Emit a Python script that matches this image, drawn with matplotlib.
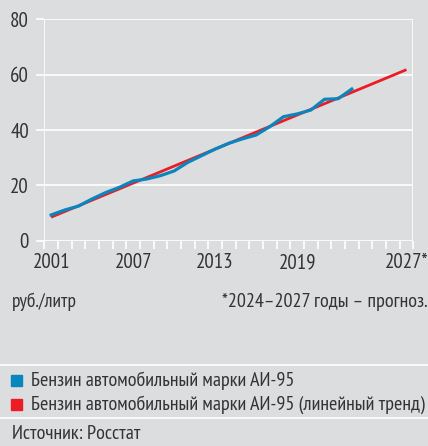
import numpy as np
import matplotlib.pyplot as plt
from matplotlib import font_manager
from matplotlib.patches import Rectangle

years = list(range(2001, 2024))
price = [9.3, 11.1, 12.5, 15.1, 17.4, 19.3, 21.6, 22.3, 23.5, 25.2, 28.3, 30.7,
         33.1, 35.2, 36.8, 38.2, 41.2, 44.8, 45.8, 47.2, 51.1, 51.3, 54.8]
trend_years = [2001, 2027]
trend_vals = [8.5, 61.8]
label_years = [2001, 2007, 2013, 2019, 2027]
label_text = ["2001", "2007", "2013", "2019", "2027*"]
yticks = [0, 20, 40, 60, 80]

bg = "#dcdddf"
blue = "#0a86bf"
red = "#ec1c24"
txt = "#333333"


def has_cyr(path):
    try:
        cmap = font_manager.get_font(path).get_charmap()
        return all(ord(c) in cmap for c in "БжИ–")
    except Exception:
        return False


# look for a narrow font with cyrillic, fall back to plain DejaVu
cands = []
for f in font_manager.fontManager.ttflist:
    if f.style != "normal" or f.weight not in (400, "normal", "regular"):
        continue
    if "Narrow" in f.name or f.stretch == "condensed" or "Condensed" in f.fname:
        if has_cyr(f.fname):
            cands.append(f)
cands.sort(key=lambda f: ("Narrow" not in f.name, f.fname))
fname = cands[0].fname if cands else None


def fp(size):
    if fname:
        return font_manager.FontProperties(fname=fname, size=size)
    return font_manager.FontProperties(family="DejaVu Sans", stretch="condensed", size=size)


fig = plt.figure(figsize=(4.28, 4.46), dpi=100, facecolor=bg)
ax = fig.add_axes([44.3 / 428, 1 - 240.7 / 446, (413.3 - 44.3) / 428, (240.7 - 19.3) / 446])
ax.set_facecolor(bg)

ax.plot(trend_years, trend_vals, color=red, lw=2.0, solid_capstyle="butt", zorder=3)
ax.plot(years, price, color=blue, lw=2.3, zorder=4)

ax.set_xlim(2000.5, 2027.5)
ax.set_ylim(0, 80)
for s in ax.spines.values():
    s.set_visible(False)

ax.set_yticks(yticks)
ax.set_yticklabels([str(v) for v in yticks], fontproperties=fp(15))
ax.yaxis.grid(True, color="white", lw=1.2)
ax.axvline(2000.5, color="white", lw=1.2, zorder=1)
ax.axvline(2027.5, color="white", lw=1.2, zorder=1)
ax.tick_params(axis="y", length=6, color="white", width=1.2, pad=5, labelcolor=txt)

ax.set_xticks(np.arange(2000.5, 2028, 1.0))
ax.set_xticklabels([])
ax.set_xticks(label_years, minor=True)
ax.set_xticklabels(label_text, minor=True, fontproperties=fp(15))
ax.tick_params(axis="x", which="major", length=6, color="white", width=1.2)
ax.tick_params(axis="x", which="minor", length=0, pad=9, labelcolor=txt)
ax.set_axisbelow(True)

fig.text(12 / 428, 1 - 302 / 446, "руб./литр", fontproperties=fp(14), color=txt, va="center")
fig.text(428 / 428, 1 - 302 / 446, "*2024–2027 годы – прогноз.", fontproperties=fp(14.5),
         color=txt, va="center", ha="right")

for yy in [365, 418]:
    fig.add_artist(plt.Line2D([0, 1], [1 - yy / 446] * 2, color="white", lw=1.2))

legend_items = [("Бензин автомобильный марки АИ-95", blue, 380.5),
                ("Бензин автомобильный марки АИ-95 (линейный тренд)", red, 404.5)]
for label, col, yy in legend_items:
    fig.add_artist(Rectangle((11 / 428, 1 - (yy + 5.5) / 446), 11 / 428, 11 / 446,
                             color=col, transform=fig.transFigure))
    fig.text(31 / 428, 1 - yy / 446, label, fontproperties=fp(14.5), color=txt, va="center")

fig.text(12 / 428, 1 - 434 / 446, "Источник: Росстат", fontproperties=fp(14.5),
         color=txt, va="center")

fig.savefig("out.png", dpi=100, facecolor=bg)
